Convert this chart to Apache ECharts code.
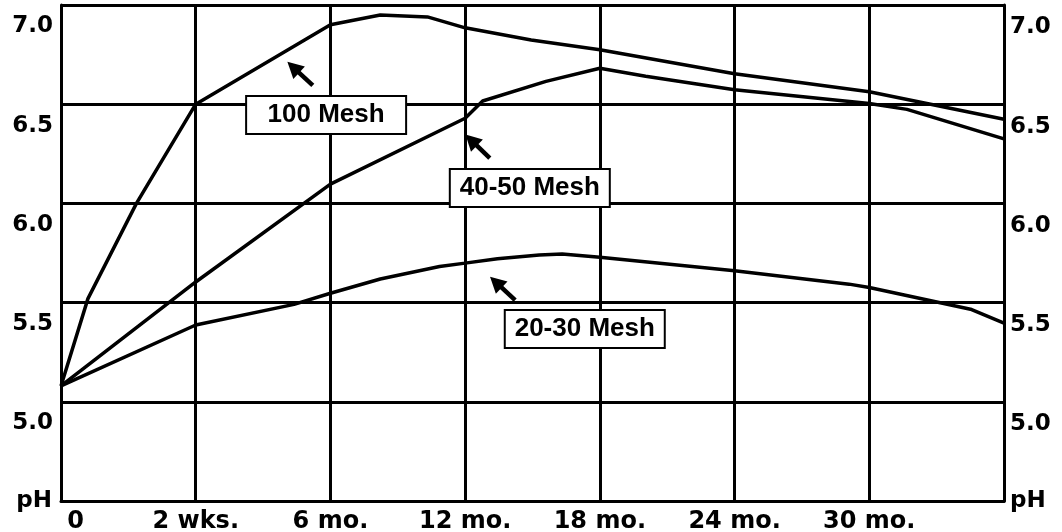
<!DOCTYPE html>
<html>
<head>
<meta charset="utf-8">
<script src="https://cdn.jsdelivr.net/npm/echarts@6/dist/echarts.min.js"></script>
<style>
  html, body { margin: 0; padding: 0; background: #fff; }
  #chart { width: 1062px; height: 532px; }
</style>
</head>
<body>
<div id="chart"></div>
<script>
// x positions are in grid steps: 0 = start, 1 = 2 wks., 2 = 6 mo., ... 7 = right edge
const xLabels = ['0', '2 wks.', '6 mo.', '12 mo.', '18 mo.', '24 mo.', '30 mo.', '']
const mesh100 = [[0, 5.08], [0.2, 5.52], [0.56, 6.0], [1, 6.5], [2, 6.9], [2.37, 6.95], [2.72, 6.94], [3, 6.885], [3.49, 6.824], [4, 6.774], [5, 6.653], [6, 6.563], [7, 6.424]]
const mesh4050 = [[0, 5.08], [1, 5.604], [2, 6.097], [3, 6.429], [3.13, 6.516], [3.6, 6.615], [4, 6.681], [4.34, 6.641], [5, 6.573], [6, 6.503], [6.28, 6.474], [7, 6.325]]
const mesh2030 = [[0, 5.08], [1, 5.387], [1.73, 5.491], [2, 5.547], [2.37, 5.619], [2.81, 5.682], [3, 5.699], [3.24, 5.721], [3.55, 5.74], [3.72, 5.745], [4, 5.728], [5, 5.661], [5.85, 5.593], [6, 5.576], [6.76, 5.465], [7, 5.397]]

const black = '#000'
const numFont = 'DejaVu Sans'
const boxFont = 'Liberation Sans'

const chart = echarts.init(document.getElementById('chart'))

const boxLabel = {
  show: true,
  position: 'inside',
  formatter: '{b}',
  color: black,
  fontFamily: boxFont,
  fontWeight: 'bold',
  fontSize: 26,
  lineHeight: 26,
  width: 158,
  align: 'center',
  backgroundColor: '#fff',
  borderColor: black,
  borderWidth: 2,
  padding: [5, 0, 5, 0]
}

const arrowLine = (from, to) => ([
  { coord: from },
  { coord: to }
])

const makeSeries = (name, data, box, arrow) => ({
  name: name,
  type: 'line',
  data: data,
  symbol: 'none',
  silent: true,
  lineStyle: { color: black, width: 3.5 },
  markLine: {
    silent: true,
    symbol: ['none', 'triangle'],
    symbolSize: [17, 16],
    label: { show: false },
    lineStyle: { color: black, width: 4.5, type: 'solid' },
    data: [arrowLine(arrow[0], arrow[1])]
  },
  markPoint: {
    silent: true,
    symbol: 'rect',
    symbolSize: 0,
    label: boxLabel,
    data: [{ name: name, coord: box }]
  }
})

const yLabel = (v) => (v < 4.9 ? '' : v.toFixed(1))

chart.setOption({
  animation: false,
  backgroundColor: '#fff',
  grid: { left: 61, right: 58, top: 5, bottom: 31, outerBoundsMode: 'none', containLabel: false },
  xAxis: {
    type: 'value',
    min: 0,
    max: 7,
    interval: 1,
    axisLine: { show: true, lineStyle: { color: black, width: 3 } },
    axisTick: { show: false },
    splitLine: { show: true, lineStyle: { color: black, width: 3 } },
    axisLabel: {
      margin: 9,
      color: black,
      fontFamily: numFont,
      fontWeight: 'bold',
      fontSize: 24,
      showMaxLabel: true,
      formatter: (v) => (v === 0 ? '{z|0}' : xLabels[Math.round(v)]),
      rich: {
        z: { fontFamily: numFont, fontWeight: 'bold', fontSize: 24, color: black, padding: [0, 0, 0, 29] }
      }
    }
  },
  yAxis: [
    {
      type: 'value',
      position: 'left',
      min: 4.5,
      max: 7,
      interval: 0.5,
      name: 'pH',
      nameLocation: 'start',
      nameGap: 0,
      nameTextStyle: {
        color: black, fontFamily: numFont, fontWeight: 'bold', fontSize: 23,
        align: 'right', verticalAlign: 'middle', padding: [0, 9, 0, 0]
      },
      axisLine: { show: true, lineStyle: { color: black, width: 3 } },
      axisTick: { show: false },
      splitLine: { show: true, lineStyle: { color: black, width: 3 } },
      axisLabel: {
        margin: 8,
        color: black,
        fontFamily: numFont,
        fontWeight: 'bold',
        fontSize: 23,
        verticalAlign: 'top',
        padding: [10, 0, 0, 0],
        formatter: yLabel
      }
    },
    {
      type: 'value',
      position: 'right',
      min: 4.5,
      max: 7,
      interval: 0.5,
      name: 'pH',
      nameLocation: 'start',
      nameGap: 0,
      nameTextStyle: {
        color: black, fontFamily: numFont, fontWeight: 'bold', fontSize: 23,
        align: 'left', verticalAlign: 'middle', padding: [8, 0, 0, 6]
      },
      axisLine: { show: true, lineStyle: { color: black, width: 3 } },
      axisTick: { show: false },
      splitLine: { show: false },
      axisLabel: {
        margin: 6,
        color: black,
        fontFamily: numFont,
        fontWeight: 'bold',
        fontSize: 23,
        verticalAlign: 'top',
        padding: [11, 0, 0, 0],
        formatter: yLabel
      }
    }
  ],
  series: [
    makeSeries('100 Mesh', mesh100, [1.968, 6.446], [[1.869, 6.595], [1.724, 6.686]]),
    makeSeries('40-50 Mesh', mesh4050, [3.48, 6.078], [[3.183, 6.228], [3.045, 6.319]]),
    makeSeries('20-30 Mesh', mesh2030, [3.888, 5.367], [[3.371, 5.512], [3.228, 5.603]])
  ]
})
</script>
</body>
</html>
